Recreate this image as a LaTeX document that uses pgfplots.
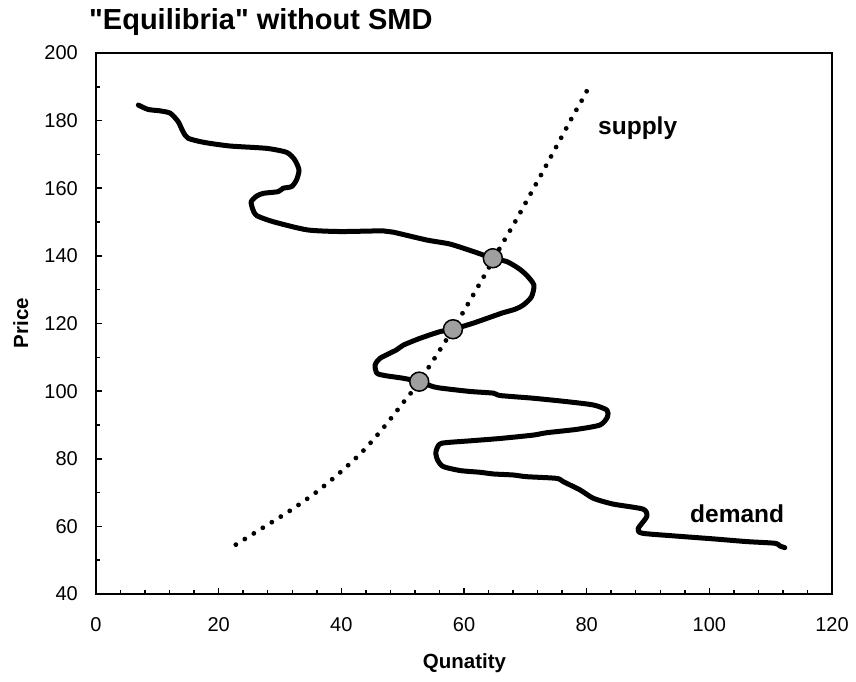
\documentclass[border=0pt]{standalone}
\usepackage{fontspec}
\setmainfont{Liberation Sans}[Ligatures=TeXOff]
\usepackage{pgfplots}
\pgfplotsset{compat=1.18}
\begin{document}
\begin{tikzpicture}[x=1pt,y=1pt]
\useasboundingbox (0,0) rectangle (856,681);
\begin{axis}[
  at={(96pt,87pt)}, anchor=south west,
  scale only axis, width=736pt, height=541pt,
  xmin=0, xmax=120, ymin=40, ymax=200,
  xtick={0,20,...,120}, ytick={40,60,...,200},
  minor x tick num=4, minor y tick num=1,
  tick align=inside,
  xtick pos=bottom, ytick pos=left,
  axis line style={line width=2.7pt},
  major tick length=6pt, minor tick length=4pt,
  every tick/.style={line width=1.5pt, black},
  ticklabel style={font=\fontsize{20}{24}\selectfont},
  /pgf/number format/assume math mode=true,
  xticklabel style={inner sep=0pt, anchor=north, yshift=-23pt},
  yticklabel style={inner sep=0pt, anchor=east, xshift=-18pt},
]
% supply
\addplot[black, line width=4.8pt, line cap=round, dash pattern=on 0pt off 10.6pt, smooth] coordinates {
(22.8,54.6) (27.3,59.7) (31.6,64.6) (35.9,70.1) (39.9,76.1) (43.7,82.6)
(47.1,89.7) (50.3,97.1) (52.7,102.8) (58.2,118.3) (63.3,134.1) (65.9,142.5)
(68.5,150.6) (70.2,156.2) (72.7,164.4) (74.4,170.1) (76.1,175.8) (77.7,181.2)
(79.4,186.6) (80.2,189.4)
};
% demand
\addplot[black, line width=5pt, line join=round, line cap=round, smooth, tension=0.4] coordinates {
(6.9,184.6) (8.5,183.3) (10.4,182.9) (12.1,182.2) (13.4,179.7) (14.2,176.7)
(15.0,174.8) (17.5,173.6) (21.8,172.5) (27.8,171.8) (31.1,170.6) (32.4,168.4)
(33.1,165.4) (32.7,162.5) (31.9,160.5) (30.5,160.0) (29.7,159.0) (27.3,158.5)
(26.2,157.7) (25.3,156.0) (25.6,153.6) (26.2,151.9) (28.9,150.1) (34.4,147.7)
(39.8,147.2) (46.8,147.4) (48.5,147.0) (53.9,144.7) (57.7,143.5) (61.5,141.3)
(64.7,139.3) (67.0,138.3) (68.9,136.3) (70.2,134.3) (71.4,131.4) (71.0,127.9)
(69.7,125.5) (68.3,124.2) (66.4,123.2) (64.8,122.2) (61.5,120.1) (58.2,118.3)
(56.1,117.6) (52.8,115.6) (50.1,113.6) (49.0,112.2) (46.3,109.7) (45.5,107.7)
(45.8,105.3) (47.1,104.6) (50.1,103.8) (52.7,102.8) (55.0,101.3) (56.6,100.8)
(61.0,99.9) (64.8,99.4) (65.9,98.7) (71.3,97.9) (76.7,96.9) (81.1,95.9)
(83.3,94.4) (83.4,92.4) (82.2,90.0) (78.4,88.7) (73.5,87.7) (71.3,87.0)
(65.9,86.0) (61.0,85.3) (56.4,84.6) (55.6,83.1) (55.4,81.6) (55.7,79.6)
(56.6,77.7) (59.4,76.5) (62.6,76.0) (64.8,75.5) (68.0,75.2) (70.2,74.7)
(75.1,74.2) (76.2,73.2) (78.9,70.8) (81.1,68.3) (84.3,66.6) (89.2,65.1)
(89.8,62.9) (88.4,59.4) (89.0,58.0) (94.1,57.2) (100.7,56.3) (106.1,55.5)
(110.7,55.0) (111.5,54.2) (112.3,53.7)
};
% equilibria
\addplot[only marks, mark=*, mark size=9.5pt, mark options={fill=gray!75!white, draw=black, line width=1.5pt}] coordinates {
(64.7,139.3) (58.2,118.3) (52.7,102.8)
};
\end{axis}
\node[anchor=base west, inner sep=0pt, font=\fontsize{29}{32}\selectfont\bfseries] at (89,651) {"Equilibria" without SMD};
\node[anchor=base, inner sep=0pt, font=\fontsize{20.5}{24}\selectfont\bfseries] at (464.5,13) {Qunatity};
\node[anchor=base, rotate=90, inner sep=0pt, font=\fontsize{20.5}{24}\selectfont\bfseries] at (28,358) {Price};
\node[anchor=base west, inner sep=0pt, font=\fontsize{24.5}{28}\selectfont\bfseries] at (598,546) {supply};
\node[anchor=base west, inner sep=0pt, font=\fontsize{24.5}{28}\selectfont\bfseries] at (690,159) {demand};
\end{tikzpicture}
\end{document}
